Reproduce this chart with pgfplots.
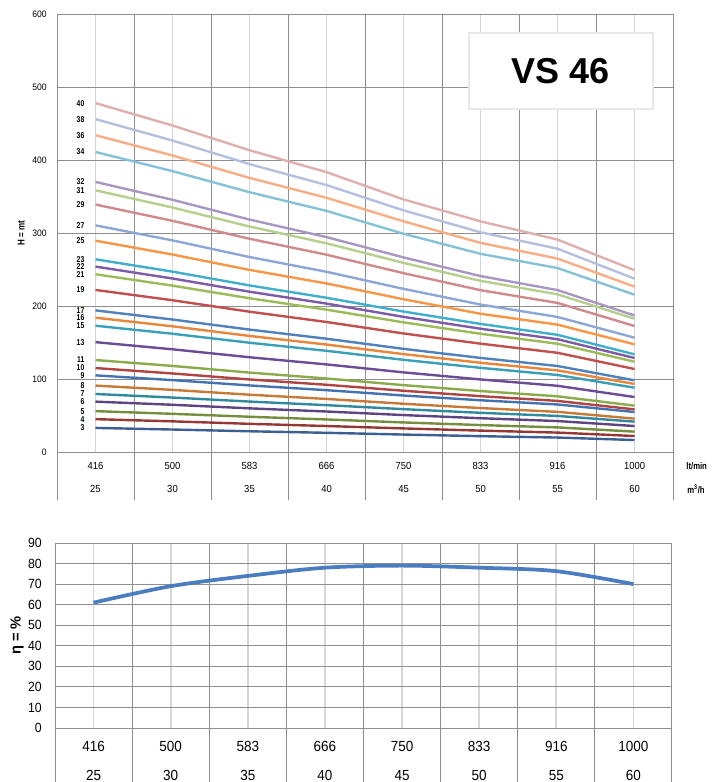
\documentclass[border=0pt]{standalone}
\usepackage{pgfplots}
\pgfplotsset{compat=1.18}
\usepackage{pgfplotstable}
\usepackage{fontspec}
\setmainfont{Liberation Sans}
\newfontfamily\cf{Liberation Sans}[FakeStretch=0.92]
\newfontfamily\lf{Liberation Sans}[FakeStretch=0.8]
\definecolor{darkgrid}{HTML}{8E8E8E}
\definecolor{lightgrid}{HTML}{D6D6D6}
\definecolor{boxgray}{HTML}{E6E8EA}
\definecolor{c40}{HTML}{DDB0AE}
\definecolor{c38}{HTML}{B4C0DE}
\definecolor{c36}{HTML}{F8AD84}
\definecolor{c34}{HTML}{85C2D8}
\definecolor{c32}{HTML}{A797C2}
\definecolor{c31}{HTML}{B5D08E}
\definecolor{c29}{HTML}{D18A89}
\definecolor{c27}{HTML}{8CA7D6}
\definecolor{c25}{HTML}{F79646}
\definecolor{c23}{HTML}{3FAFCB}
\definecolor{c22}{HTML}{7D5BA6}
\definecolor{c21}{HTML}{9BBB59}
\definecolor{c19}{HTML}{C0504D}
\definecolor{c17}{HTML}{4F81BD}
\definecolor{c16}{HTML}{E8863B}
\definecolor{c15}{HTML}{3A9FB8}
\definecolor{c13}{HTML}{6C4C96}
\definecolor{c11}{HTML}{8AAB4A}
\definecolor{c10}{HTML}{B04442}
\definecolor{c9}{HTML}{4472B0}
\definecolor{c8}{HTML}{C77A35}
\definecolor{c7}{HTML}{31899E}
\definecolor{c6}{HTML}{5F4482}
\definecolor{c5}{HTML}{748E3E}
\definecolor{c4}{HTML}{953735}
\definecolor{c3}{HTML}{3B5E93}
\definecolor{effblue}{HTML}{4A7CC0}

\pgfplotstableread{
x   c40   c38   c36   c34   c32   c31   c29   c27   c25   c23   c22   c21   c19   c17   c16   c15   c13   c11   c10   c9    c8    c7    c6    c5    c4    c3
0   478   456   434   411   370   358.5 339   310.5 289.5 264   254   243.5 222   194   184   173   150.5 126   115   105   91    79.5  69    56    45    33
1   447.3 426.7 406.2 384.8 345.5 334.9 316.7 289.9 270.5 247.1 237.7 227.9 207.9 181.5 172.2 162   140.7 117.9 107.6 98.5  85.1  74.6  64.7  52.3  42    30.8
2   413.4 394.4 375.5 355.9 318.4 308.9 292.1 267.1 249.5 228.2 219.6 210.6 192.2 167.7 159   149.7 129.8 108.8 99.4  91.2  78.5  69.1  59.8  48.3  38.6  28.4
3   383.4 365.7 348.3 330.3 294.4 285.9 270.3 246.9 230.9 211.3 203.3 195   178.1 155.2 147.2 138.6 120   100.7 92.1  84.7  72.7  64.2  55.5  44.6  35.6  26.3
4   346   331   316   299   266.6 259.1 245   223.5 209.3 192.4 185.1 177.6 162.4 141.3 134.1 126.3 109.1 91.6  83.9  77.4  66.1  58.7  50.6  40.5  32.3  23.9
5   316   301   286.5 271.5 241   234.5 221.7 202   189.4 175.5 168.9 162   148.4 128.9 122.3 115.3 99.4  83.5  76.5  70.9  60.2  53.7  46.3  36.9  29.3  21.7
6   291   278.5 265   252   221.8 216   204.2 185   174.5 160.5 154.5 148.3 135.9 117.8 111.8 105.5 90.7  76.3  70    65.1  55    49.4  42.4  33.7  26.6  19.8
7   249   237.4 226.5 215.5 187   182.6 172.6 156.6 147.5 133.8 128.8 123.7 113.7 98.2  93.2  88.1  75.3  63.5  58.4  54.8  45.7  41.6  35.6  27.9  21.9  16.4
}\headtable

\pgfplotstableread{
x eff
0 61
1 69
2 74
3 78
4 79
5 78
6 76.3
7 70
}\efftable

\newcommand{\curve}[1]{\addplot[color=c#1, line width=1.8pt] table[x=x,y=c#1]{\headtable}
  node[pos=0, anchor=east, inner sep=0pt, xshift=-7.5pt, font=\lf\bfseries\fontsize{6.4pt}{7pt}\selectfont, text=black]{#1};}

\begin{document}
\begin{tikzpicture}
\useasboundingbox (0,0) rectangle (537pt,-586.5pt);
\begin{axis}[
  at={(42.75pt,-339pt)}, anchor=south west,
  scale only axis, width=462pt, height=328.5pt,
  xmin=-0.5, xmax=7.5, ymin=0, ymax=600,
  xtick={0,...,7}, minor xtick={-0.5,0.5,...,7.5},
  ytick={0,100,...,600},
  xticklabels={{416\\25},{500\\30},{583\\35},{666\\40},{750\\45},{833\\50},{916\\55},{1000\\60}},
  xmajorgrids, xminorgrids, ymajorgrids,
  major x grid style={draw=lightgrid, line width=1.3pt},
  minor x grid style={draw=darkgrid, line width=0.75pt},
  major y grid style={draw=darkgrid, line width=0.75pt},
  axis line style={draw=darkgrid, line width=0.75pt},
  tick align=outside, major tick length=0pt, minor tick length=36pt,
  minor tick style={draw=darkgrid, line width=0.75pt},
  xtick pos=bottom, ytick pos=left,
  /pgf/number format/assume math mode=true,
  yticklabel style={font=\cf\fontsize{7pt}{8pt}\selectfont, anchor=east, inner sep=0pt, xshift=-7.5pt},
  xticklabel style={font=\cf\fontsize{7.7pt}{17.25pt}\selectfont, align=center, anchor=north, inner sep=0pt, yshift=-7.75pt},
  ylabel={H = mt},
  ylabel style={at={(axis description cs:-0.058,0.5)}, anchor=center, font=\lf\bfseries\fontsize{7.5pt}{8pt}\selectfont},
  clip=false,
]
\curve{40}
\curve{38}
\curve{36}
\curve{34}
\curve{32}
\curve{31}
\curve{29}
\curve{27}
\curve{25}
\curve{23}
\curve{22}
\curve{21}
\curve{19}
\curve{17}
\curve{16}
\curve{15}
\curve{13}
\curve{11}
\curve{10}
\curve{9}
\curve{8}
\curve{7}
\curve{6}
\curve{5}
\curve{4}
\curve{3}
\end{axis}
\node[draw=boxgray, line width=1.6pt, fill=white, minimum width=138pt, minimum height=57pt, inner sep=0pt,
  font=\bfseries\fontsize{27pt}{30pt}\selectfont] at (420.75pt,-53.25pt) {VS 46};
\node[font=\lf\bfseries\fontsize{7.2pt}{8pt}\selectfont] at (522.5pt,-349.5pt) {lt/min};
\node[font=\lf\bfseries\fontsize{7.2pt}{8pt}\selectfont] at (522pt,-366.75pt) {m\textsuperscript{3}/h};

\begin{axis}[
  at={(41.25pt,-546pt)}, anchor=south west,
  scale only axis, width=462.75pt, height=138.75pt,
  xmin=-0.5, xmax=7.5, ymin=0, ymax=90,
  xtick={0,...,7}, minor xtick={-0.5,0.5,...,7.5},
  ytick={0,10,...,90},
  xticklabels={{416\\25},{500\\30},{583\\35},{666\\40},{750\\45},{833\\50},{916\\55},{1000\\60}},
  xmajorgrids, xminorgrids, ymajorgrids,
  major x grid style={draw=lightgrid, line width=1.3pt},
  minor x grid style={draw=darkgrid, line width=0.75pt},
  major y grid style={draw=darkgrid, line width=0.75pt},
  axis line style={draw=darkgrid, line width=0.75pt},
  tick align=outside, major tick length=0pt, minor tick length=40.5pt,
  minor tick style={draw=darkgrid, line width=0.75pt},
  xtick pos=bottom, ytick pos=left,
  /pgf/number format/assume math mode=true,
  yticklabel style={font=\cf\fontsize{10pt}{11pt}\selectfont, anchor=east, inner sep=0pt, xshift=-9.75pt},
  xticklabel style={font=\cf\fontsize{11pt}{21.75pt}\selectfont, align=center, anchor=north, inner sep=0pt, yshift=-9.6pt},
  ylabel={η = \%},
  ylabel style={at={(axis description cs:-0.0616,0.5)}, anchor=center, font=\bfseries\fontsize{11pt}{12pt}\selectfont},
  clip=false,
]
\addplot[color=effblue, line width=2.8pt, smooth, tension=0.5] table[x=x,y=eff]{\efftable};
\end{axis}
\end{tikzpicture}
\end{document}
